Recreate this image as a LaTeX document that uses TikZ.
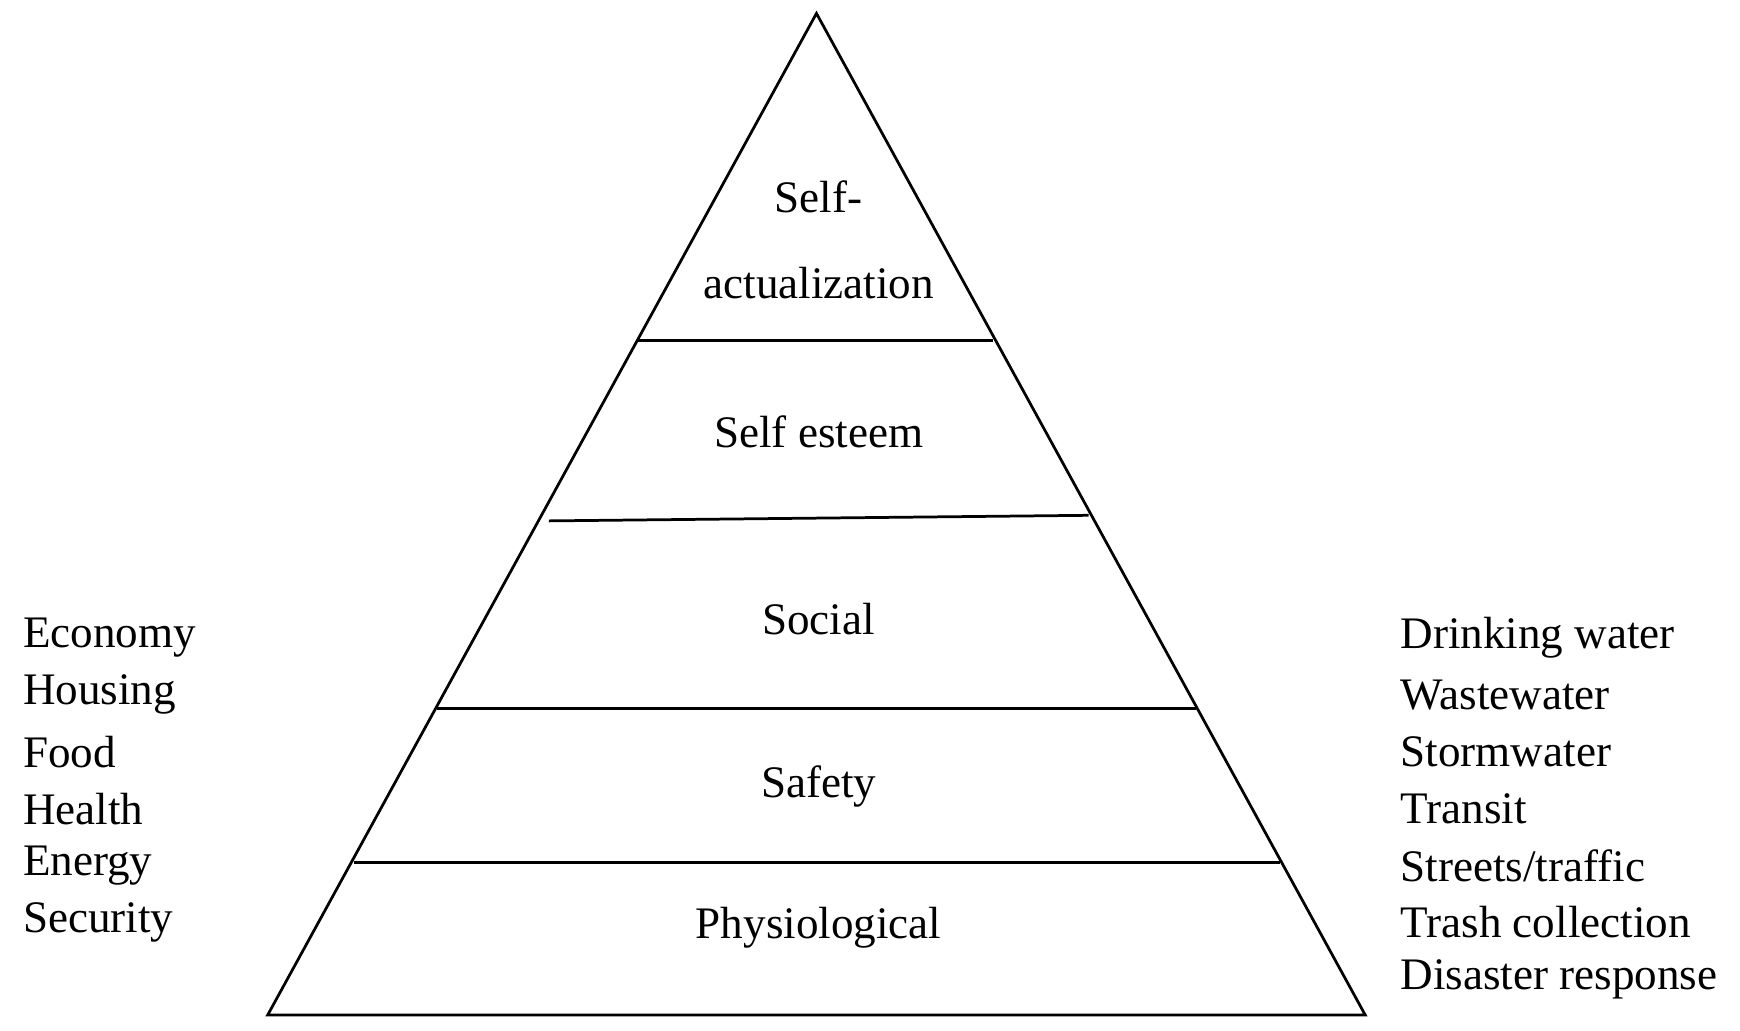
\documentclass[tikz,border=0pt]{standalone}
\usepackage{fontspec}
\setmainfont{Liberation Serif}
\begin{document}
\begin{tikzpicture}[x=0.01cm,y=-0.01cm,lbl/.style={font=\fontsize{11.5}{14}\selectfont,inner sep=0pt},side/.style={lbl,anchor=west},edge/.style={line width=0.7pt}]
\useasboundingbox (0,0) rectangle (1560,924);
\coordinate (top) at (732,12);
\coordinate (bl) at (240,910);
\coordinate (br) at (1224,910);
\draw[edge] (top) -- (br) -- (bl) -- cycle;
\coordinate (a1) at (572,305); \coordinate (a2) at (890,305);
\coordinate (b1) at (492,467); \coordinate (b2) at (976,462);
\coordinate (c1) at (392,635); \coordinate (c2) at (1072,635);
\coordinate (d1) at (317,773); \coordinate (d2) at (1148,773);
\draw[edge] (a1) -- (a2);
\draw[edge] (b1) -- (b2);
\draw[edge] (c1) -- (c2);
\draw[edge] (d1) -- (d2);
\node[lbl,align=center] (sa) at (734,215) {Self-\\[8pt]actualization};
\node[lbl] (se) at (734,387) {Self esteem};
\node[lbl] (so) at (734,555) {Social};
\node[lbl] (sf) at (734,705) {Safety};
\node[lbl] (ph) at (734,832) {Physiological};
\foreach \t [count=\i] in {Economy,Housing,Food,Health,Energy,Security}
  \node[side] (l\i) at (20,572+51*\i-51) {\t};
\foreach \t [count=\i] in {Drinking water,Wastewater,Stormwater,Transit,Streets/traffic,Trash collection,Disaster response}
  \node[side] (r\i) at (1255,572+51*\i-51) {\t};
\end{tikzpicture}
\end{document}
